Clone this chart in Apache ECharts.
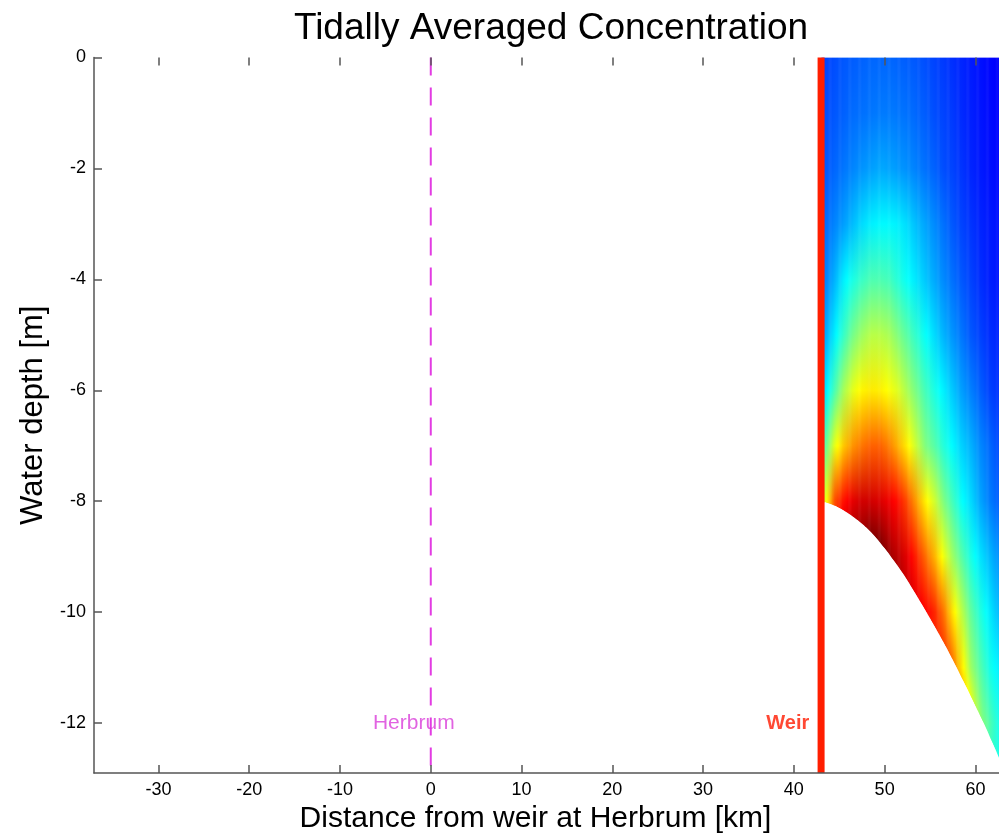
<!DOCTYPE html>
<html>
<head>
<meta charset="utf-8">
<script src="https://cdn.jsdelivr.net/npm/echarts@6/dist/echarts.min.js"></script>
<style>
  html, body { margin: 0; padding: 0; background: #fff; }
  #chart { width: 999px; height: 839px; }
</style>
</head>
<body>
<div id="chart"></div>
<script>
// tick labels
const xTicks = [-30, -20, -10, 0, 10, 20, 30, 40, 50, 60];
const yTicks = [0, -2, -4, -6, -8, -10, -12];

// reference lines (km)
const herbrumX = 0;
const weirX = 43;

// text marks
const markNames = ['Herbrum', 'Weir'];
const markX = [-1.87, 39.33];
const markY = [-12, -12];

// bed depth along the channel (km, m)
const bedX = [43.4, 44, 45, 46, 47, 48, 49, 50, 51, 52, 53, 54, 55, 56, 57, 58, 59, 60, 61, 62, 63];
const bedDepth = [-8.02, -8.05, -8.12, -8.22, -8.34, -8.48, -8.65, -8.85, -9.07, -9.3, -9.56, -9.83, -10.11, -10.4, -10.7, -11.02, -11.35, -11.69, -12.03, -12.4, -12.78];

// model columns (edges, km) and depth rows (m)
const colEdges = [43, 44, 45, 46, 47, 48, 49, 50, 51, 52, 53, 54, 55, 56, 57, 58, 59, 60, 61, 62, 63];
const depthRows = [0, -1, -2, -3, -4, -5, -6, -7, -8, -9, -10, -11, -12];

// relative concentration, one row per depth, one value per column
const conc = [
  [0.19, 0.20, 0.21, 0.215, 0.22, 0.225, 0.225, 0.225, 0.22, 0.215, 0.21, 0.20, 0.19, 0.18, 0.17, 0.16, 0.15, 0.14, 0.13, 0.12],
  [0.20, 0.21, 0.22, 0.23, 0.235, 0.24, 0.245, 0.245, 0.24, 0.235, 0.225, 0.215, 0.20, 0.19, 0.18, 0.165, 0.155, 0.145, 0.135, 0.125],
  [0.21, 0.225, 0.24, 0.255, 0.27, 0.28, 0.29, 0.285, 0.275, 0.265, 0.25, 0.235, 0.22, 0.20, 0.19, 0.175, 0.16, 0.15, 0.14, 0.13],
  [0.23, 0.255, 0.28, 0.31, 0.34, 0.36, 0.37, 0.37, 0.36, 0.34, 0.31, 0.285, 0.26, 0.235, 0.21, 0.19, 0.175, 0.16, 0.15, 0.14],
  [0.25, 0.30, 0.36, 0.40, 0.43, 0.45, 0.45, 0.44, 0.41, 0.38, 0.35, 0.32, 0.29, 0.26, 0.235, 0.21, 0.19, 0.17, 0.155, 0.145],
  [0.29, 0.36, 0.43, 0.49, 0.53, 0.555, 0.555, 0.54, 0.50, 0.46, 0.42, 0.38, 0.34, 0.30, 0.27, 0.24, 0.21, 0.19, 0.17, 0.16],
  [0.35, 0.45, 0.54, 0.60, 0.635, 0.645, 0.64, 0.62, 0.59, 0.54, 0.49, 0.44, 0.40, 0.36, 0.32, 0.28, 0.25, 0.22, 0.19, 0.175],
  [0.47, 0.60, 0.68, 0.73, 0.76, 0.78, 0.78, 0.75, 0.70, 0.64, 0.57, 0.50, 0.46, 0.41, 0.37, 0.33, 0.30, 0.26, 0.23, 0.20],
  [0.60, 0.80, 0.86, 0.90, 0.92, 0.92, 0.91, 0.89, 0.86, 0.80, 0.72, 0.64, 0.58, 0.50, 0.44, 0.38, 0.34, 0.29, 0.25, 0.22],
  [null, null, null, null, null, null, null, 0.97, 0.94, 0.90, 0.84, 0.77, 0.70, 0.61, 0.53, 0.46, 0.40, 0.35, 0.31, 0.27],
  [null, null, null, null, null, null, null, null, null, null, 0.89, 0.88, 0.84, 0.76, 0.65, 0.56, 0.47, 0.41, 0.36, 0.31],
  [null, null, null, null, null, null, null, null, null, null, null, null, null, 0.81, 0.76, 0.65, 0.53, 0.46, 0.40, 0.36],
  [null, null, null, null, null, null, null, null, null, null, null, null, null, null, null, null, 0.6, 0.52, 0.46, 0.40]
];
// concentration at the bed for each column
const bedConc = [0.6, 0.8, 0.88, 0.93, 0.96, 0.99, 1.0, 0.98, 0.95, 0.92, 0.89, 0.87, 0.84, 0.81, 0.76, 0.68, 0.6, 0.52, 0.45, 0.4];

const FONT = '"Liberation Sans", Arial, sans-serif';
const STRIPS = 10; // shading steps per model column

// matlab jet colormap
function jet(v) {
  v = Math.max(0, Math.min(1, v));
  const c = t => Math.round(255 * Math.max(0, Math.min(1, t)));
  return 'rgb(' + c(1.5 - Math.abs(4 * v - 3)) + ',' + c(1.5 - Math.abs(4 * v - 2)) + ',' + c(1.5 - Math.abs(4 * v - 1)) + ')';
}

// bed depth between the read points
function bedAt(x) {
  if (x <= bedX[0]) return bedDepth[0];
  for (let k = 1; k < bedX.length; k++) {
    if (x <= bedX[k]) {
      const t = (x - bedX[k - 1]) / (bedX[k] - bedX[k - 1]);
      return bedDepth[k - 1] + t * (bedDepth[k] - bedDepth[k - 1]);
    }
  }
  return bedDepth[bedDepth.length - 1];
}

// shading like pcolor 'interp': blend a column with its neighbour
function shade(arr, i, xm) {
  const ci = (colEdges[i] + colEdges[i + 1]) / 2;
  const j = xm < ci ? i - 1 : i + 1;
  const vi = arr[i];
  if (j < 0 || j >= arr.length || arr[j] == null) return vi;
  const cj = (colEdges[j] + colEdges[j + 1]) / 2;
  const w = Math.abs(xm - ci) / Math.abs(cj - ci);
  return (1 - w) * vi + w * arr[j];
}

const columns = [];
for (let i = 0; i < colEdges.length - 1; i++) {
  columns.push([colEdges[i], colEdges[i + 1], i]);
}

const chart = echarts.init(document.getElementById('chart'));

const axisGray = '#555';

const option = {
  animation: false,
  backgroundColor: '#fff',
  textStyle: { fontFamily: FONT },
  title: {
    text: 'Tidally Averaged Concentration',
    left: 546,
    textAlign: 'center',
    top: 5,
    textStyle: { fontFamily: FONT, fontSize: 37, fontWeight: 'normal', color: '#000' }
  },
  grid: { left: 94, right: 0, top: 57.5, bottom: 66, containLabel: false, outerBoundsMode: 'none' },
  xAxis: [
    {
      type: 'value',
      position: 'bottom',
      min: -37.1,
      max: 62.6,
      z: 10,
      name: 'Distance from weir at Herbrum [km]',
      nameLocation: 'middle',
      nameGap: 26,
      nameTextStyle: { fontFamily: FONT, fontSize: 30, color: '#000', padding: [0, 22, 0, 0] },
      axisLine: { show: true, onZero: false, lineStyle: { color: axisGray, width: 1.5 } },
      axisTick: { show: true, inside: true, length: 8, customValues: xTicks, lineStyle: { color: axisGray, width: 1.5 } },
      axisLabel: { customValues: xTicks, margin: 8, fontFamily: FONT, fontSize: 18, color: '#000' },
      splitLine: { show: false }
    },
    {
      type: 'value',
      position: 'top',
      min: -37.1,
      max: 62.6,
      z: 10,
      axisLine: { show: false, onZero: false },
      axisTick: { show: true, inside: true, length: 8, customValues: xTicks, lineStyle: { color: axisGray, width: 1.5 } },
      axisLabel: { show: false },
      splitLine: { show: false }
    }
  ],
  yAxis: {
    type: 'value',
    position: 'left',
    min: -12.9,
    max: 0,
    z: 10,
    name: 'Water depth [m]',
    nameLocation: 'middle',
    nameGap: 41,
    nameTextStyle: { fontFamily: FONT, fontSize: 31, color: '#000' },
    axisLine: { show: true, onZero: false, lineStyle: { color: axisGray, width: 1.5 } },
    axisTick: { show: true, inside: true, length: 8, customValues: yTicks, lineStyle: { color: axisGray, width: 1.5 } },
    axisLabel: { customValues: yTicks, margin: 8, fontFamily: FONT, fontSize: 18, color: '#000' },
    splitLine: { show: false }
  },
  series: [
    {
      type: 'custom',
      z: 2,
      clip: true,
      silent: true,
      data: columns,
      renderItem: function (params, api) {
        const x0 = api.value(0), x1 = api.value(1), i = api.value(2);
        const dx = (x1 - x0) / STRIPS;
        const children = [];
        for (let s = 0; s < STRIPS; s++) {
          const xa = x0 + s * dx, xb = xa + dx, xm = xa + dx / 2;
          const bottom = Math.min(bedAt(xa), bedAt(xb));
          const p0 = api.coord([xa, 0]);
          const p1 = api.coord([xb, bottom]);
          const stops = [];
          for (let r = 0; r < depthRows.length; r++) {
            const row = conc[r];
            if (row[i] == null || depthRows[r] <= bottom) continue;
            stops.push({ offset: depthRows[r] / bottom, color: jet(shade(row, i, xm)) });
          }
          stops.push({ offset: 1, color: jet(shade(bedConc, i, xm)) });
          children.push({
            type: 'rect',
            shape: { x: p0[0], y: p0[1], width: p1[0] - p0[0] + 0.6, height: p1[1] - p0[1] },
            style: { fill: new echarts.graphic.LinearGradient(0, 0, 0, 1, stops) }
          });
        }
        return { type: 'group', children: children };
      }
    },
    {
      type: 'line',
      z: 3,
      silent: true,
      smooth: true,
      showSymbol: false,
      data: bedX.map((x, k) => [x, bedDepth[k]]),
      lineStyle: { width: 0, opacity: 0 },
      areaStyle: { color: '#fff', opacity: 1, origin: 'start' }
    },
    {
      type: 'line',
      z: 4,
      silent: true,
      showSymbol: false,
      data: [[herbrumX, 0], [herbrumX, -12.9]],
      lineStyle: { color: '#e23ce2', width: 2, type: [18, 12] }
    },
    {
      type: 'line',
      z: 5,
      silent: true,
      showSymbol: false,
      data: [[weirX, 0], [weirX, -12.9]],
      lineStyle: { color: '#ff1e00', width: 7, cap: 'butt' }
    },
    {
      type: 'scatter',
      z: 6,
      silent: true,
      symbolSize: 0,
      data: markNames.map((n, k) => ({ name: n, value: [markX[k], markY[k]] })),
      label: {
        show: true,
        position: 'inside',
        formatter: '{b}',
        fontFamily: FONT,
        fontSize: 21,
        color: '#d93cd9'
      },
      labelLayout: { hideOverlap: false }
    }
  ]
};

// weir label in bold red
option.series[4].data[1].label = { color: '#ff1a00', fontWeight: 'bold', fontSize: 20 };

chart.setOption(option);
</script>
</body>
</html>
